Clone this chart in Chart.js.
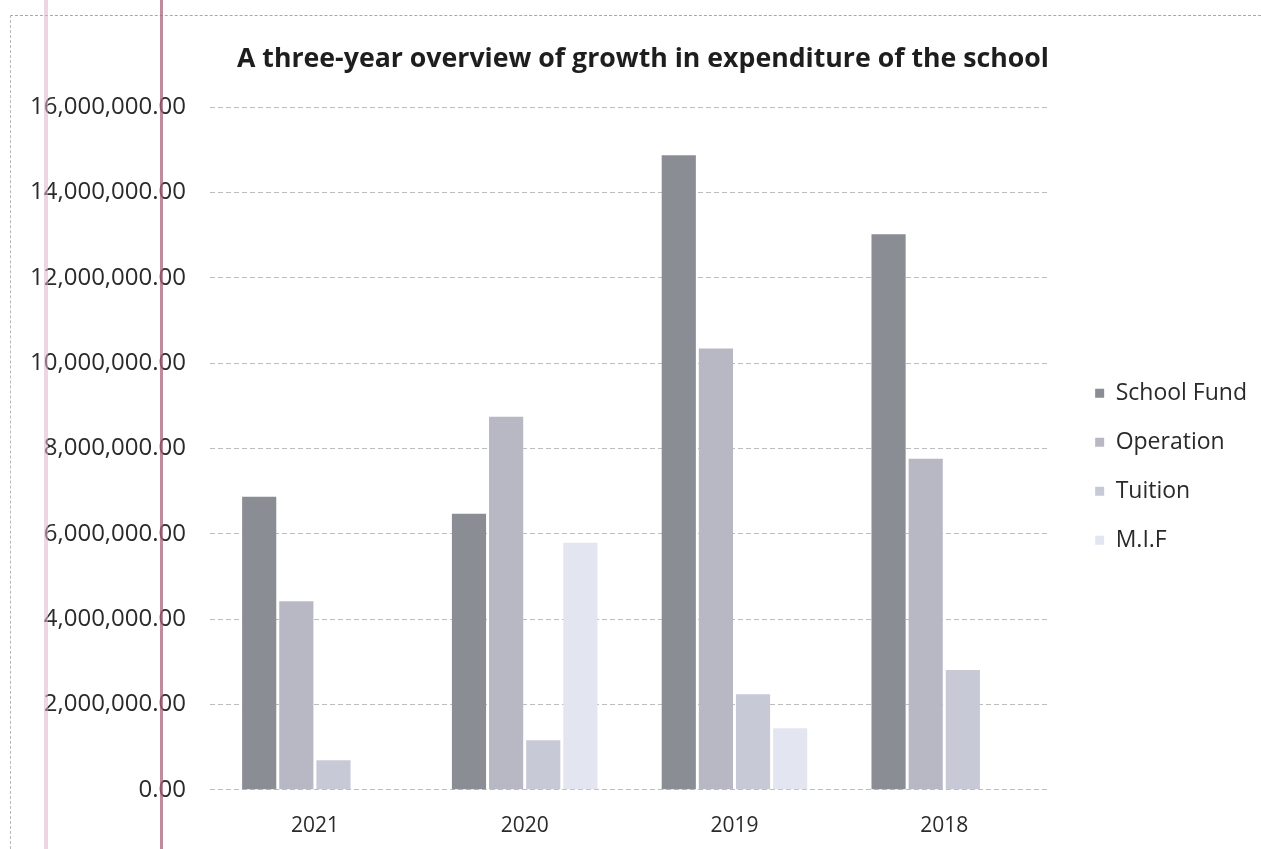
<!DOCTYPE html>
<html>
<head>
<meta charset="utf-8">
<script src="https://cdn.jsdelivr.net/npm/chart.js@4"></script>
<style>
    html, body { margin: 0; padding: 0; background: #fff; }
    #wrap { position: relative; width: 1261px; height: 849px; overflow: hidden; }
    #frame {
        position: absolute; left: 10px; top: 15px; right: -5px; bottom: -5px;
        border-left: 1px dashed #b8b8b8; border-top: 1px dashed #a8a8a8;
    }
    .margin-line { position: absolute; top: 0; bottom: 0; }
    #lineA { left: 44px; width: 4px; background: rgba(220, 180, 200, 0.55); }
    #lineB { left: 160px; width: 3px; background: rgba(170, 100, 125, 0.75); }
    canvas { position: absolute; left: 0; top: 0; }
</style>
</head>
<body>
<div id="wrap">
    <div id="frame"></div>
    <canvas id="barChart" width="1261" height="849"></canvas>
    <div class="margin-line" id="lineA"></div>
    <div class="margin-line" id="lineB"></div>
</div>
<script>
    // Expenditure per year, in the order the columns appear
    const years = ['2021', '2020', '2019', '2018']
    const schoolFund = [6870000, 6470000, 14870000, 13020000]
    const operation = [4420000, 8740000, 10340000, 7760000]
    const tuition = [690000, 1160000, 2240000, 2810000]
    const mif = [0, 5790000, 1440000, 0]

    const yMax = 16000000
    const yStep = 2000000

    const fontFamily = '"Open Sans", "Noto Sans", sans-serif'

    const ctx = document.getElementById('barChart')

    new Chart(ctx.getContext('2d'), {
        type: 'bar',
        data: {
            labels: years,
            datasets: [
                { label: 'School Fund', data: schoolFund, backgroundColor: '#8b8d94' },
                { label: 'Operation', data: operation, backgroundColor: '#b7b8c3' },
                { label: 'Tuition', data: tuition, backgroundColor: '#c8c9d6' },
                { label: 'M.I.F', data: mif, backgroundColor: '#e3e5f1' },
            ],
        },
        options: {
            responsive: false,
            animation: false,
            layout: { padding: { left: 29, right: 4, top: 0, bottom: -14 } },
            datasets: {
                bar: { categoryPercentage: 0.708, barPercentage: 0.92 },
            },
            plugins: {
                title: {
                    display: true,
                    text: 'A three-year overview of growth in expenditure of the school',
                    color: '#1e1e1e',
                    font: { family: fontFamily, size: 26.7, weight: 'bold' },
                    padding: { top: 43, bottom: 32 },
                },
                legend: {
                    position: 'right',
                    // blank title only pushes the entries down a little
                    title: { display: true, text: ' ', font: { size: 12 }, padding: { top: 56, bottom: 0 } },
                    labels: {
                        color: '#2a2a2a',
                        font: { family: fontFamily, size: 23 },
                        boxWidth: 9,
                        boxHeight: 9,
                        padding: 26,
                    },
                },
                tooltip: { enabled: false },
            },
            scales: {
                x: {
                    grid: { display: false, drawTicks: false },
                    border: { display: false },
                    ticks: {
                        color: '#2a2a2a',
                        font: { family: fontFamily, size: 21 },
                        padding: 24,
                    },
                },
                y: {
                    min: 0,
                    max: yMax,
                    border: { display: false, dash: [5, 3] },
                    grid: { color: '#bdbdbd', drawTicks: false },
                    ticks: {
                        stepSize: yStep,
                        color: '#2a2a2a',
                        font: { family: fontFamily, size: 24 },
                        padding: 24,
                        callback: (v) => v.toLocaleString('en-US', { minimumFractionDigits: 2, maximumFractionDigits: 2 }),
                    },
                    afterFit: (scale) => { scale.width = 181 },
                },
                // empty axis that keeps a gap between the plot and the legend
                gap: {
                    position: 'right',
                    display: true,
                    grid: { display: false, drawTicks: false },
                    border: { display: false },
                    ticks: { display: false },
                    afterFit: (scale) => { scale.width = 20 },
                },
            },
        },
    })
</script>
</body>
</html>
